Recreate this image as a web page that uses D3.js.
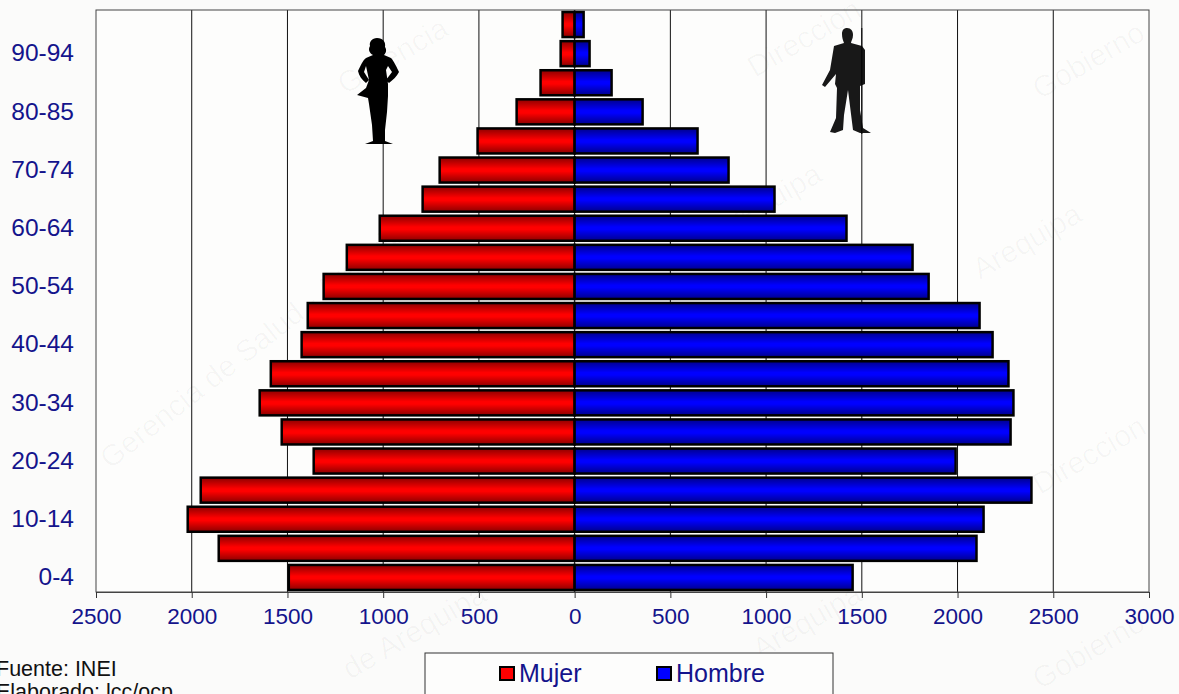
<!DOCTYPE html>
<html>
<head>
    <meta charset="utf-8">
    <title>Piramide poblacional</title>
    <script src="https://cdnjs.cloudflare.com/ajax/libs/d3/7.8.5/d3.min.js"></script>
    <style>
        body {
            margin: 0;
            background: #fbfbfa;
            overflow: hidden;
        }
        svg {
            display: block;
            font-family: "Liberation Sans", Arial, sans-serif;
        }
        .tick line { stroke: #333; }
        .tick text { fill: #14148c; }
        .x-axis .tick text { font-size: 22.5px; }
        .y-axis .tick text { font-size: 24.5px; }
    </style>
</head>
<body>
    <div id="chart"></div>
    <script>
        // ordered from the top row down
        const ageGroups = ["95+", "90-94", "85-89", "80-85", "75-79", "70-74", "65-69", "60-64", "55-59", "50-54",
            "45-49", "40-44", "35-39", "30-34", "25-29", "20-24", "15-19", "10-14", "5-9", "0-4"];
        const mujer = [63, 73, 178, 303, 507, 705, 794, 1018, 1190, 1311,
            1394, 1426, 1587, 1645, 1530, 1363, 1953, 2021, 1859, 1493];
        const hombre = [47, 78, 193, 355, 642, 804, 1044, 1420, 1765, 1849,
            2115, 2183, 2266, 2292, 2277, 1990, 2386, 2136, 2099, 1452];
        const shownLabels = ["90-94", "80-85", "70-74", "60-64", "50-54", "40-44", "30-34", "20-24", "10-14", "0-4"];
        const xTicks = [-2500, -2000, -1500, -1000, -500, 0, 500, 1000, 1500, 2000, 2500, 3000];
        const watermarks = [
            { text: "Gerencia de Salud - Arequipa", x: 110, y: 470, size: 30, rot: -38 },
            { text: "Gerencia", x: 345, y: 95, size: 30, rot: -30 },
            { text: "Direccion", x: 755, y: 78, size: 30, rot: -30 },
            { text: "Arequipa", x: 720, y: 240, size: 30, rot: -30 },
            { text: "Arequipa", x: 980, y: 280, size: 30, rot: -30 },
            { text: "Gobierno", x: 1040, y: 100, size: 30, rot: -30 },
            { text: "Direccion", x: 1040, y: 495, size: 30, rot: -30 },
            { text: "de Arequipa", x: 350, y: 680, size: 30, rot: -30 },
            { text: "Arequipa", x: 760, y: 660, size: 30, rot: -30 },
            { text: "Gobierno", x: 1040, y: 690, size: 30, rot: -30 }
        ];

        const width = 1179;
        const height = 694;
        const plot = { left: 96, right: 1149, top: 10, bottom: 592 };

        const svg = d3.select("#chart").append("svg")
            .attr("width", width)
            .attr("height", height);

        const defs = svg.append("defs");
        function addGradient(id, dark, bright) {
            const g = defs.append("linearGradient")
                .attr("id", id)
                .attr("x1", 0).attr("y1", 0).attr("x2", 0).attr("y2", 1);
            g.append("stop").attr("offset", "0%").attr("stop-color", dark);
            g.append("stop").attr("offset", "45%").attr("stop-color", bright);
            g.append("stop").attr("offset", "55%").attr("stop-color", bright);
            g.append("stop").attr("offset", "100%").attr("stop-color", dark);
        }
        addGradient("gradMujer", "#8c0000", "#ff0000");
        addGradient("gradHombre", "#00008c", "#0000ff");

        const x = d3.scaleLinear().domain([-2500, 3000]).range([plot.left, plot.right]);
        const y = d3.scaleBand().domain(ageGroups).range([plot.top, plot.bottom]).paddingInner(0.14).paddingOuter(0.07);

        svg.append("rect")
            .attr("x", plot.left).attr("y", plot.top)
            .attr("width", plot.right - plot.left).attr("height", plot.bottom - plot.top)
            .attr("fill", "#fdfdfc");

        // faint background stamp
        svg.append("g").selectAll("text")
            .data(watermarks)
            .join("text")
            .attr("transform", d => `translate(${d.x},${d.y}) rotate(${d.rot})`)
            .attr("font-size", d => d.size)
            .attr("fill", "#000")
            .attr("fill-opacity", 0.03)
            .text(d => d.text);

        svg.append("g").selectAll("line")
            .data(xTicks.slice(1, -1))
            .join("line")
            .attr("x1", d => x(d)).attr("x2", d => x(d))
            .attr("y1", plot.top).attr("y2", plot.bottom)
            .attr("stroke", "#111")
            .attr("stroke-width", 1);

        svg.append("rect")
            .attr("x", plot.left).attr("y", plot.top)
            .attr("width", plot.right - plot.left).attr("height", plot.bottom - plot.top)
            .attr("fill", "none")
            .attr("stroke", "#444")
            .attr("stroke-width", 1);

        const rows = ageGroups.map((age, i) => ({ age, mujer: mujer[i], hombre: hombre[i] }));

        svg.append("g").selectAll("rect")
            .data(rows)
            .join("rect")
            .attr("x", d => x(-d.mujer))
            .attr("y", d => y(d.age))
            .attr("width", d => x(0) - x(-d.mujer))
            .attr("height", y.bandwidth())
            .attr("fill", "url(#gradMujer)")
            .attr("stroke", "#000")
            .attr("stroke-width", 2.5);

        svg.append("g").selectAll("rect")
            .data(rows)
            .join("rect")
            .attr("x", x(0))
            .attr("y", d => y(d.age))
            .attr("width", d => x(d.hombre) - x(0))
            .attr("height", y.bandwidth())
            .attr("fill", "url(#gradHombre)")
            .attr("stroke", "#000")
            .attr("stroke-width", 2.5);

        const xAxis = d3.axisBottom(x)
            .tickValues(xTicks)
            .tickFormat(d => Math.abs(d))
            .tickSize(6)
            .tickPadding(10);
        svg.append("g")
            .attr("class", "x-axis")
            .attr("transform", `translate(0,${plot.bottom})`)
            .call(xAxis)
            .call(g => g.select(".domain").attr("stroke", "#444"));

        const yAxis = d3.axisLeft(y)
            .tickValues(shownLabels)
            .tickSize(0)
            .tickPadding(22);
        svg.append("g")
            .attr("class", "y-axis")
            .attr("transform", `translate(${plot.left},0)`)
            .call(yAxis)
            .call(g => g.select(".domain").remove());

        // silhouettes
        const womanPath = "M377 38 C383 38 386 42 385 47 C387 50 386 53 384 55 L391 58 C394 61 397 68 399 72 C397 76 393 80 389 83 L386 80 L392 72 L388 66 L386 70 L388 84 L388 96 L387 112 L385 130 L385 141 L393 144 L365 144 L373 141 L372 125 L369 104 L368 98 L357 95 L366 88 L369 80 L366 66 L364 72 L369 80 L366 83 C362 80 359 76 358 71 C361 65 363 60 366 58 L373 55 C369 53 368 49 370 46 C369 42 372 38 377 38 Z";
        const manPath = "M847 28 C851 28 853 31 853 35 C853 39 851 41 851 43 L862 46 L865 50 L865 84 L860 86 L860 110 L863 128 L871 133 L860 133 L853 130 L848 90 L844 115 L843 130 L835 133 L830 132 L836 118 L837 88 L835 84 L836 74 L825 87 L822 85 L830 70 L834 46 L844 43 C843 40 842 38 842 34 C842 30 844 28 847 28 Z";
        svg.append("path").attr("d", womanPath).attr("fill", "#000");
        svg.append("path").attr("d", manPath).attr("fill", "#181818");
        svg.append("line")
            .attr("x1", x(1500)).attr("x2", x(1500))
            .attr("y1", 28).attr("y2", 134)
            .attr("stroke", "#000");

        // source note
        const note = svg.append("g").attr("font-size", 21.5).attr("fill", "#111");
        note.append("text").attr("x", -4).attr("y", 676).text("Fuente: INEI");
        note.append("text").attr("x", -4).attr("y", 699).text("Elaborado: lcc/ocp");

        // legend
        svg.append("rect")
            .attr("x", 425).attr("y", 653)
            .attr("width", 408).attr("height", 60)
            .attr("fill", "#fdfdfc")
            .attr("stroke", "#333");
        const legend = [
            { name: "Mujer", fill: "#ff0000", sx: 500, tx: 519 },
            { name: "Hombre", fill: "#0000ff", sx: 657, tx: 676 }
        ];
        const leg = svg.append("g").selectAll("g").data(legend).join("g");
        leg.append("rect")
            .attr("x", d => d.sx).attr("y", 667)
            .attr("width", 14).attr("height", 13)
            .attr("fill", d => d.fill)
            .attr("stroke", "#000")
            .attr("stroke-width", 2);
        leg.append("text")
            .attr("x", d => d.tx).attr("y", 682)
            .attr("font-size", 25)
            .attr("fill", "#14148c")
            .text(d => d.name);
    </script>
</body>
</html>
